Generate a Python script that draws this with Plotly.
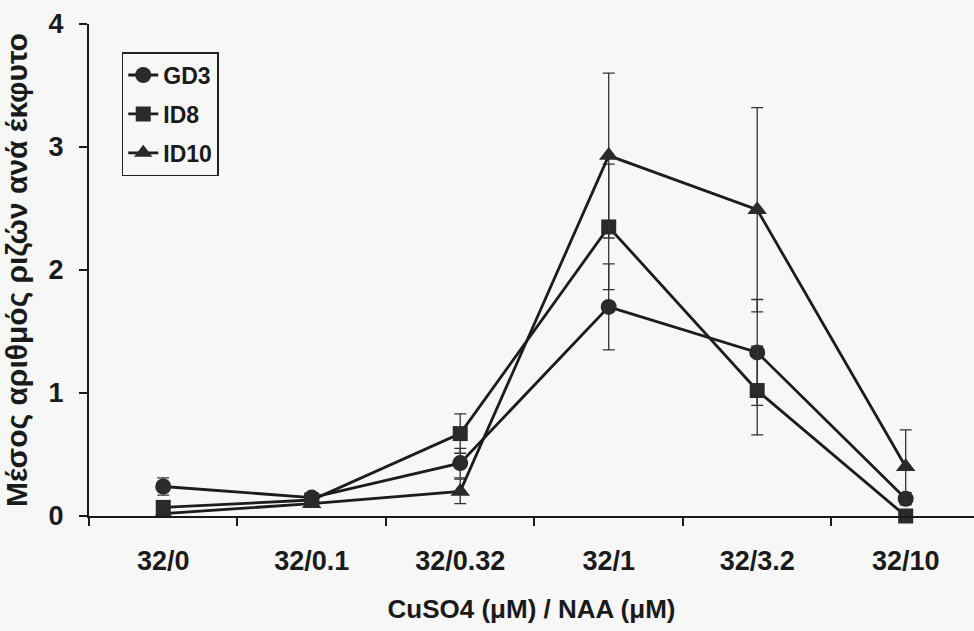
import plotly.graph_objects as go

categories = ["32/0", "32/0.1", "32/0.32", "32/1", "32/3.2", "32/10"]
gd3 = [0.24, 0.15, 0.43, 1.70, 1.33, 0.14]
gd3_err = [0.07, 0.03, 0.12, 0.35, 0.43, 0.05]
id8 = [0.07, 0.13, 0.67, 2.35, 1.02, 0.0]
id8_err = [0.03, 0.03, 0.16, 0.51, 0.36, 0.0]
id10 = [0.02, 0.10, 0.20, 2.93, 2.49, 0.40]
id10_err = [0.02, 0.03, 0.10, 0.67, 0.83, 0.30]

series = [
    ("GD3", gd3, gd3_err, "circle", 16),
    ("ID8", id8, id8_err, "square", 15),
    ("ID10", id10, id10_err, "triangle-up", 17),
]

FONT = "Liberation Sans, Arial, sans-serif"
fig = go.Figure()
for i, (name, vals, errs, sym, sz) in enumerate(series):
    fig.add_trace(go.Scatter(
        x=categories, y=vals, name=name, mode="lines+markers",
        legendgroup=name,
        line=dict(color="#1c1c1c", width=2.8),
        marker=dict(symbol=sym, size=sz, color="#2a2a2a"),
        error_y=dict(type="data", array=errs, visible=True,
                     color="#333333", thickness=1.3, width=6),
        cliponaxis=False,
    ))

fig.update_layout(
    width=974, height=631,
    margin=dict(l=89, r=0, t=24, b=115),
    paper_bgcolor="#f7f7f7", plot_bgcolor="#f7f7f7",
    font=dict(family=FONT, color="#1a1a1a"),
    showlegend=True,
    legend=dict(
        x=0.037, y=0.943, xanchor="left", yanchor="top",
        bgcolor="rgba(0,0,0,0)", bordercolor="#222222", borderwidth=1.5,
        font=dict(size=23, family=FONT, color="#1a1a1a", weight="bold"),
        traceorder="grouped", tracegroupgap=6,
        itemwidth=30,
    ),
    xaxis=dict(
        type="category", range=[-0.5, 5.46],
        showgrid=False, zeroline=False,
        showline=True, linecolor="#1a1a1a", linewidth=2,
        ticks="outside", tickson="boundaries", ticklen=8, tickwidth=1.5, tickcolor="#1a1a1a",
        tickfont=dict(size=27, family=FONT, weight="bold"),
        ticklabelstandoff=20,
        title=dict(text="CuSO4 (μM) / NAA (μM)",
                   font=dict(size=26, family=FONT, weight="bold"),
                   standoff=24),
    ),
    yaxis=dict(
        range=[0, 4], tickvals=[0, 1, 2, 3, 4],
        showgrid=False, zeroline=False,
        showline=True, linecolor="#1a1a1a", linewidth=2,
        ticks="outside", ticklen=8, tickwidth=1.5, tickcolor="#1a1a1a",
        tickfont=dict(size=27, family=FONT, weight="bold"),
        ticklabelstandoff=10,
        title=dict(text="Μέσος αριθμός ριζών ανά έκφυτο",
                   font=dict(size=30, family=FONT, weight="bold"),
                   standoff=12),
    ),
)

fig.write_html("out.html")
